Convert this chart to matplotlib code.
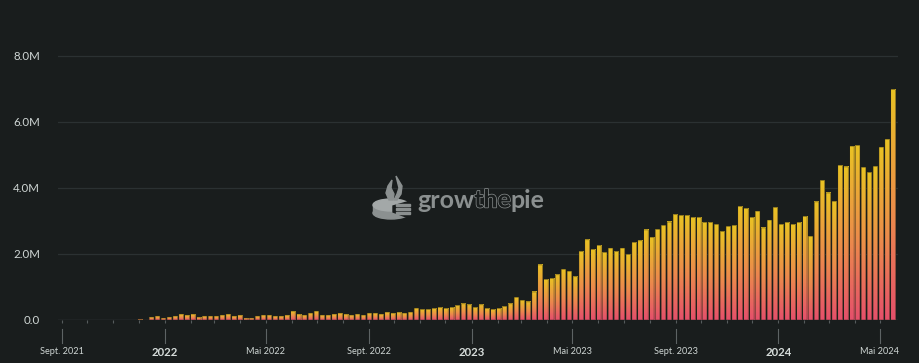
import numpy as np
import pandas as pd
import matplotlib
matplotlib.use("Agg")
import matplotlib.pyplot as plt
import matplotlib.dates as mdates
from matplotlib.colors import LinearSegmentedColormap
from matplotlib.patches import Ellipse, Rectangle, Polygon
import matplotlib.patheffects as pe

# ---------------- data ----------------
week_start = pd.date_range("2021-11-29", periods=129, freq="7D")
values_m = [
    0.03, 0.0,
    0.09, 0.12, 0.06, 0.09, 0.12, 0.18, 0.15, 0.18, 0.09, 0.12, 0.12, 0.12,
    0.15, 0.18, 0.12, 0.15, 0.06, 0.06, 0.12, 0.15, 0.15, 0.12,
    0.12, 0.15, 0.27, 0.18, 0.15, 0.21, 0.27, 0.15, 0.15, 0.18, 0.21, 0.18,
    0.15, 0.18, 0.15, 0.21, 0.21, 0.18, 0.24, 0.21, 0.24, 0.21, 0.24, 0.36,
    0.32, 0.32, 0.35, 0.38, 0.35, 0.38, 0.44, 0.49, 0.46, 0.38, 0.46, 0.35,
    0.32, 0.35, 0.41, 0.49, 0.69, 0.60, 0.55, 0.85, 1.67, 1.23, 1.26, 1.37,
    1.54, 1.48, 1.31, 2.07, 2.43, 2.13, 2.26, 2.05, 2.18, 2.07, 2.18, 1.99,
    2.35, 2.40, 2.73, 2.51, 2.75, 2.87, 2.97, 3.19,
    3.17, 3.17, 3.11, 3.11, 2.95, 2.95, 2.90, 2.68, 2.84, 2.87, 3.44, 3.38,
    3.11, 3.30, 2.79, 3.03, 3.41, 2.90, 2.95, 2.90, 2.95, 3.14, 2.54,
    3.58, 4.23, 3.85, 3.60, 4.69, 4.64, 5.27, 5.29, 4.63, 4.47, 4.66, 5.24,
    5.48, 6.98,
]
ytick_values = [0, 2e6, 4e6, 6e6, 8e6]
ytick_labels = ["0.0", "2.0M", "4.0M", "6.0M", "8.0M"]
xtick_dates = ["2021-09-01", "2022-01-01", "2022-05-01", "2022-09-01", "2023-01-01",
               "2023-05-01", "2023-09-01", "2024-01-01", "2024-05-01"]
xtick_labels = ["Sept. 2021", "2022", "Mai 2022", "Sept. 2022", "2023",
                "Mai 2023", "Sept. 2023", "2024", "Mai 2024"]
xtick_bold = [False, True, False, False, True, False, False, True, False]

# ---------------- style ----------------
BG = "#191d1d"
GRID = "#2b3132"
TXT = "#cfd6d4"
FONT = "Lato"

W, H = 920, 363
fig = plt.figure(figsize=(W / 100, H / 100), dpi=100, facecolor=BG)
ax_l, ax_r, ax_b, ax_t = 58, 898, 320, 39.5
ax = fig.add_axes([ax_l / W, 1 - ax_b / H, (ax_r - ax_l) / W, (ax_b - ax_t) / H])
ax.set_facecolor(BG)

cmap = LinearSegmentedColormap.from_list(
    "gtp", [(0.0, "#e5506b"), (0.45, "#ec8a4c"), (1.0, "#e9c224")])
grad = np.linspace(0, 1, 64).reshape(-1, 1)

centers = mdates.date2num(week_start) + 3.5
bar_w = 5.4
vals = np.array(values_m) * 1e6
for c, v in zip(centers, vals):
    if v <= 0:
        continue
    ax.imshow(grad, extent=[c - bar_w / 2, c + bar_w / 2, 0, v], origin="lower",
              aspect="auto", cmap=cmap, vmin=0, vmax=1, zorder=2,
              interpolation="bilinear")
ax.bar(centers, vals, width=bar_w, facecolor="none", edgecolor="#2a2618",
       linewidth=0.4, alpha=0.8, zorder=3, snap=False)

x0 = mdates.date2num(pd.Timestamp("2021-08-27"))
x1 = mdates.date2num(pd.Timestamp("2024-05-22 10:00"))
ax.set_xlim(x0, x1)
ax.set_ylim(0, 8.5e6)

# grid
for yv in ytick_values[1:]:
    ax.axhline(yv, color=GRID, linewidth=0.9, zorder=1)
ax.axhline(0, color="#3a4041", linewidth=1.0, zorder=1)

for s in ax.spines.values():
    s.set_visible(False)

ax.set_yticks(ytick_values)
ax.set_yticklabels(ytick_labels, fontsize=8.3, color=TXT, family=FONT)
ax.tick_params(axis="y", length=0, pad=13)

# monthly small ticks on baseline
months = pd.date_range("2021-09-01", "2024-05-01", freq="MS")
ax.set_xticks(mdates.date2num(months))
ax.set_xticklabels([])
ax.tick_params(axis="x", length=2.5, width=0.8, color="#565c5d", direction="out", pad=0)

# major tick lines and labels
trans = ax.get_xaxis_transform()
ph = ax_b - ax_t
for d, lab, b in zip(xtick_dates, xtick_labels, xtick_bold):
    xv = mdates.date2num(pd.Timestamp(d))
    ax.plot([xv, xv], [-(329 - ax_b) / ph, -(343 - ax_b) / ph], transform=trans,
            color="#5d6364", linewidth=0.8, clip_on=False)
    ax.text(xv, -(352 - ax_b) / ph, lab, transform=trans, ha="center", va="center",
            fontsize=8.2 if b else 6.6, fontweight="bold" if b else "normal",
            color="#d6dcda" if b else TXT, family=FONT)

# ---------------- watermark ----------------
WM = "#8b9090"
fig.canvas.draw()
rend = fig.canvas.get_renderer()
ty = 1 - 200 / H
xpos = 417 / W
parts = [("grow", dict(color=WM)),
         ("the", dict(color=BG, path_effects=[pe.withStroke(linewidth=1.0, foreground=WM)])),
         ("pie", dict(color=WM))]
for txt, kw in parts:
    t = fig.text(xpos, ty, txt, fontsize=18, fontweight="bold", family=FONT,
                 ha="left", va="center", zorder=5, **kw)
    bb = t.get_window_extent(renderer=rend)
    xpos = bb.x1 / W

iax = fig.add_axes([372 / W, 1 - 224 / H, 42 / W, 52 / H])
iax.set_xlim(0, 42)
iax.set_ylim(0, 52)
iax.axis("off")
iax.patch.set_alpha(0)
iax.add_patch(Ellipse((19, 11), 36, 12, color=WM))
iax.add_patch(Rectangle((1, 11), 36, 8, color=WM))
iax.add_patch(Ellipse((19, 19), 36, 12, color="#a3a8a8"))
iax.add_patch(Polygon([(21, 18), (42, 24), (42, 4), (21, 12)], color=BG))
for yy in (10, 14, 18):
    iax.add_patch(Rectangle((24, yy), 14, 2, color=WM))
iax.add_patch(Polygon([(17, 24), (14, 31), (16, 38), (20, 44), (19, 36), (22, 30), (21, 24)],
                      color=WM))
iax.add_patch(Polygon([(22, 24), (25, 30), (27, 36), (24, 48), (30, 38), (29, 30), (25, 24)],
                      color=WM))

fig.savefig("out.png", dpi=100, facecolor=BG)
